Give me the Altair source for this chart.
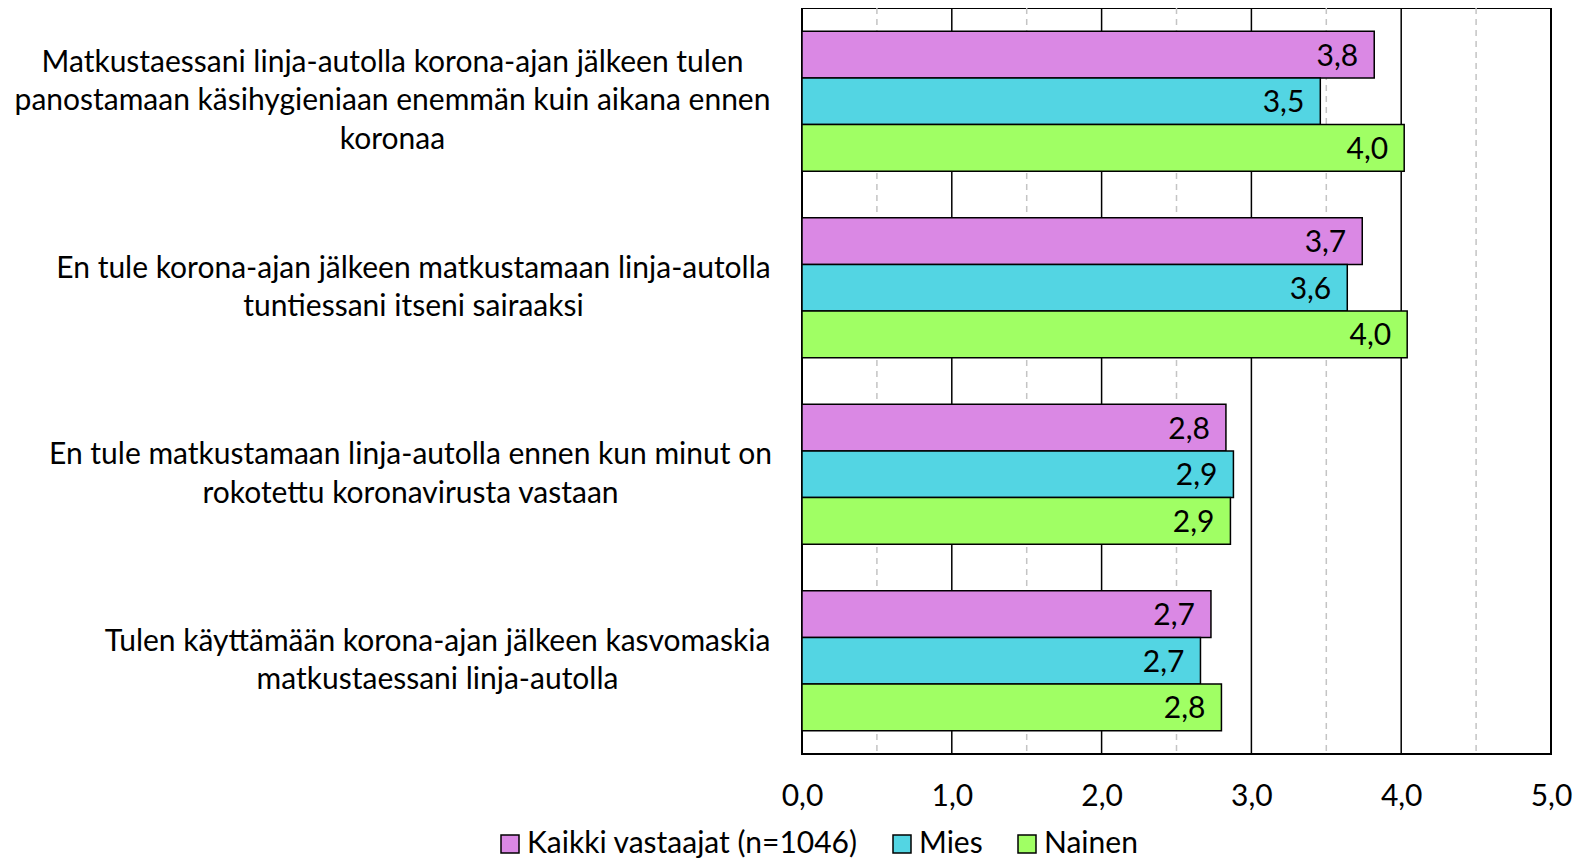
import altair as alt
import pandas as pd

categories = [
    "Matkustaessani linja-autolla korona-ajan jälkeen tulen|panostamaan käsihygieniaan enemmän kuin aikana ennen|koronaa",
    "En tule korona-ajan jälkeen matkustamaan linja-autolla|tuntiessani itseni sairaaksi",
    "En tule matkustamaan linja-autolla ennen kun minut on|rokotettu koronavirusta vastaan",
    "Tulen käyttämään korona-ajan jälkeen kasvomaskia|matkustaessani linja-autolla",
]
series = ["Kaikki vastaajat (n=1046)", "Mies", "Nainen"]
kaikki = [3.82, 3.74, 2.83, 2.73]
mies = [3.46, 3.64, 2.88, 2.66]
nainen = [4.02, 4.04, 2.86, 2.80]
colors = ["#DA88E4", "#53D5E3", "#A0FF64"]
x_ticks = [0, 1, 2, 3, 4, 5]
solid_grid = [1, 2, 3, 4]
dashed_grid = [0.5, 1.5, 2.5, 3.5, 4.5]
label_pads = [410, 389, 392, 365]
LINE_H = 38.5

FONT = "Lato"
FS = 30

rows = []
for s, vals in zip(series, [kaikki, mies, nainen]):
    for c, v in zip(categories, vals):
        rows.append({"cat": c, "series": s, "value": v})
df = pd.DataFrame(rows)

pad_cond = [
    {"test": f"datum.value === {c!r}", "value": p}
    for c, p in zip(categories[:-1], label_pads[:-1])
]
off_cond = [
    {"test": f"datum.value === {c!r}", "value": -(c.count("|")) * LINE_H / 2}
    for c in categories[:-1]
]

y_enc = alt.Y(
    "cat:N",
    sort=categories,
    title=None,
    scale=alt.Scale(paddingInner=0.25, paddingOuter=0.125),
    axis=alt.Axis(
        labelExpr="split(datum.label, '|')",
        labelAlign="center",
        labelBaseline="middle",
        labelPadding={"condition": pad_cond, "value": label_pads[-1]},
        labelOffset={"condition": off_cond, "value": -(categories[-1].count("|")) * LINE_H / 2},
        labelLineHeight=LINE_H,
        labelFont=FONT,
        labelFontSize=FS,
        labelColor="black",
        labelLimit=2000,
        ticks=False,
        domain=False,
    ),
)
yoff = alt.YOffset("series:N", sort=series, scale=alt.Scale(paddingInner=0, paddingOuter=0))
x_enc = alt.X(
    "value:Q",
    title=None,
    scale=alt.Scale(domain=[0, 5], nice=False, zero=True),
    axis=alt.Axis(
        values=x_ticks,
        labelExpr="replace(format(datum.value, '.1f'), '.', ',')",
        grid=False,
        ticks=False,
        domain=False,
        labelFont=FONT,
        labelFontSize=FS,
        labelColor="black",
        labelPadding=27,
        labelFlush=False,
    ),
)

solid = alt.Chart(pd.DataFrame({"value": solid_grid})).mark_rule(
    color="black", strokeWidth=1.5
).encode(x=alt.X("value:Q"))
dashed = alt.Chart(pd.DataFrame({"value": dashed_grid})).mark_rule(
    color="#C4C4C4", strokeWidth=1.5, strokeDash=[6, 5]
).encode(x=alt.X("value:Q"))

bars = alt.Chart(df).mark_bar(stroke="black", strokeWidth=1.5).encode(
    x=x_enc,
    y=y_enc,
    yOffset=yoff,
    color=alt.Color(
        "series:N",
        sort=series,
        scale=alt.Scale(domain=series, range=colors),
        legend=alt.Legend(
            title=None,
            orient="none",
            direction="horizontal",
            legendX=-307,
            legendY=821,
            symbolType="square",
            symbolSize=324,
            symbolStrokeColor="black",
            symbolStrokeWidth=1.5,
            symbolOpacity=1,
            labelFont=FONT,
            labelFontSize=FS,
            labelColor="black",
            labelOffset=2,
            columnPadding=29,
            labelLimit=1000,
        ),
    ),
)

text = alt.Chart(df).transform_calculate(
    lbl="replace(format(datum.value, '.1f'), '.', ',')"
).mark_text(align="right", baseline="middle", dx=-16, dy=2, font=FONT, fontSize=FS, color="black").encode(
    x=alt.X("value:Q"),
    y=y_enc,
    yOffset=yoff,
    text="lbl:N",
)

chart = (
    alt.layer(dashed, solid, bars, text)
    .properties(
        width=749,
        height=746,
        autosize=alt.AutoSizeParams(type="none"),
        padding={"left": 794, "top": 0, "right": 22, "bottom": 106},
    )
    .configure_view(stroke="black", strokeWidth=2)
)

chart.save("out.html", embed_options={"renderer": "svg", "actions": False})
